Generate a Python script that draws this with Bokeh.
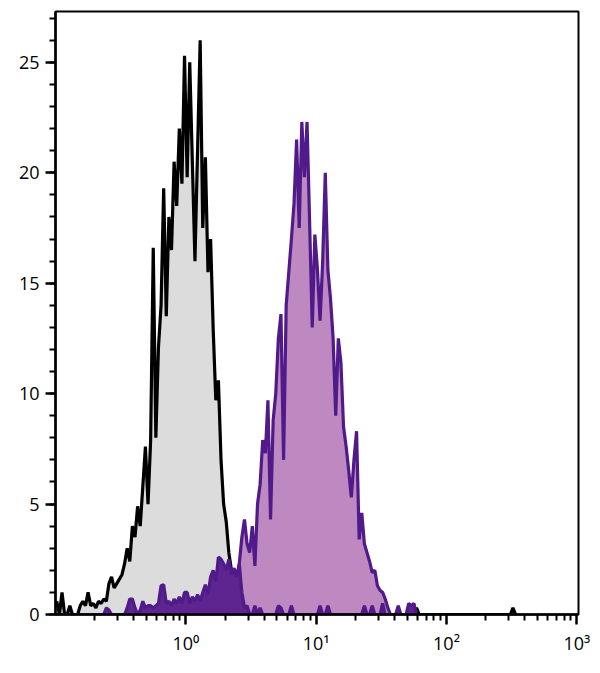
import numpy as np
from bokeh.plotting import figure
from bokeh.models import FixedTicker, Range1d
from bokeh.embed import file_html
from bokeh.resources import INLINE

# Histogram channels: 50 bins per decade, starting at 0.1
BINS_PER_DECADE = 50
X_START = 0.1

# Control (gray, black outline)
gray_counts = [0.6, 0.0, 1.0, 0.0, 0.0, 0.4, 0.0, 0.0, 0.0, 0.4,
               0.6, 0.4, 1.0, 0.4, 0.5, 0.3, 0.6, 0.5, 0.7, 0.6,
               1.4, 1.7, 1.2, 1.4, 1.6, 1.8, 2.3, 3.0, 2.4, 4.0,
               3.5, 4.9, 4.0, 5.8, 7.6, 5.0, 7.9, 16.6, 8.0, 12.1,
               14.0, 19.3, 13.5, 18.0, 16.5, 20.5, 18.5, 22.0, 19.5, 25.3,
               19.8, 25.0, 20.5, 16.0, 21.0, 26.0, 17.5, 20.7, 15.5, 17.0,
               12.9, 9.7, 10.6, 7.0, 5.0, 4.2, 2.8, 2.0, 1.0, 0.5,
               0.2] + [0.0] * 67 + [0.3] + [0.0] * 36 + [0.3, 0.0]

# Stained sample (purple)
purple_counts = [0.0] * 60 + [
    1.8, 1.4, 2.2, 2.0, 2.1, 1.8, 2.2, 1.6, 1.9, 1.5,
    2.3, 3.5, 4.3, 3.2, 2.8, 4.0, 2.2, 5.0, 5.9, 7.9,
    7.3, 9.7, 4.3, 8.8, 10.0, 12.5, 13.6, 7.0, 14.0, 15.5,
    17.0, 18.6, 21.5, 17.5, 22.3, 19.8, 22.3, 17.7, 13.0, 17.2,
    15.6, 13.3, 16.0, 20.0, 15.6, 14.3, 12.5, 9.0, 12.5, 11.4,
    8.5, 7.6, 6.5, 5.3, 7.0, 8.3, 3.4, 4.6, 3.2, 2.8,
    2.4, 1.9, 2.0, 1.3, 1.1, 1.0, 0.7, 0.3, 0.0]

# Dim sub-population (dark purple)
dim_counts = [0.0] * 18 + [
    0.0, 0.3, 0.2, 0.0, 0.0, 0.0, 0.0, 0.0, 0.0, 0.3,
    0.7, 0.7, 0.3, 0.0, 0.2, 0.6, 0.3, 0.4, 0.4, 0.3,
    0.4, 0.5, 1.3, 1.35, 0.5, 0.6, 0.4, 0.7, 0.5, 0.8,
    0.5, 1.0, 1.0, 0.5, 0.8, 0.6, 0.9, 0.6, 1.0, 1.35,
    0.9, 1.7, 2.0, 1.5, 2.6, 2.5, 2.3, 2.0, 2.5, 1.8,
    2.1, 1.7, 2.3, 1.0, 0.3, 0.4, 0.0, 0.0, 0.4, 0.0,
    0.3, 0.0, 0.0, 0.0, 0.0, 0.0, 0.0, 0.4, 0.3, 0.0,
    0.0, 0.0, 0.4, 0.0, 0.0, 0.0, 0.0, 0.0, 0.0, 0.0,
    0.0, 0.0, 0.0, 0.4, 0.0, 0.0, 0.4, 0.0, 0.0, 0.0,
    0.0, 0.0, 0.0, 0.0, 0.0, 0.0, 0.0, 0.0, 0.0, 0.0,
    0.4, 0.0, 0.0, 0.4, 0.0, 0.0, 0.0, 0.5, 0.0, 0.0,
    0.0, 0.0, 0.0, 0.4, 0.0, 0.0, 0.0, 0.5, 0.4, 0.5,
    0.0]

x_major = [1, 10, 100, 1000]
x_labels = {1: "10\u2070", 10: "10\u00b9", 100: "10\u00b2", 1000: "10\u00b3"}
y_major = [0, 5, 10, 15, 20, 25]


def centers(n):
    idx = np.arange(n)
    return X_START * 10 ** ((idx + 0.5) / BINS_PER_DECADE)


p = figure(width=590, height=657, x_axis_type="log",
           x_range=Range1d(0.1, 1030), y_range=Range1d(0, 27.3),
           output_backend="svg", toolbar_location=None,
           min_border_left=55, min_border_right=12,
           min_border_top=11, min_border_bottom=42)

gx = centers(len(gray_counts))
px = centers(len(purple_counts))
dx = centers(len(dim_counts))

p.varea(x=gx, y1=0, y2=gray_counts, fill_color="#dcdcdc")
p.line(gx, gray_counts, line_color="black", line_width=3.2)
p.varea(x=px, y1=0, y2=purple_counts, fill_color="#be88c0")
p.line(px, purple_counts, line_color="#501a8a", line_width=3.2)
p.varea(x=dx, y1=0, y2=dim_counts, fill_color="#5e2590")
p.line(dx, dim_counts, line_color="#501a8a", line_width=3.2)

minor_x = []
for e in range(-1, 3):
    for k in range(2, 10):
        minor_x.append(k * 10.0 ** e)
p.xaxis.ticker = FixedTicker(ticks=x_major, minor_ticks=minor_x)
p.xaxis.major_label_overrides = x_labels
p.yaxis.ticker = FixedTicker(ticks=y_major, minor_ticks=list(range(0, 28)))

for ax in (p.xaxis[0], p.yaxis[0]):
    ax.axis_line_width = 2.5
    ax.major_tick_line_width = 2.5
    ax.minor_tick_line_width = 2
    ax.major_tick_in = 0
    ax.major_tick_out = 10
    ax.minor_tick_in = 0
    ax.minor_tick_out = 6
    ax.major_label_text_font = "Open Sans"
    ax.major_label_text_font_size = "18px"
    ax.major_label_text_color = "black"
    ax.major_label_standoff = 6

p.grid.visible = False
p.outline_line_color = "black"
p.outline_line_width = 2
p.background_fill_color = "white"

open("out.html", "w").write(file_html(p, INLINE))
